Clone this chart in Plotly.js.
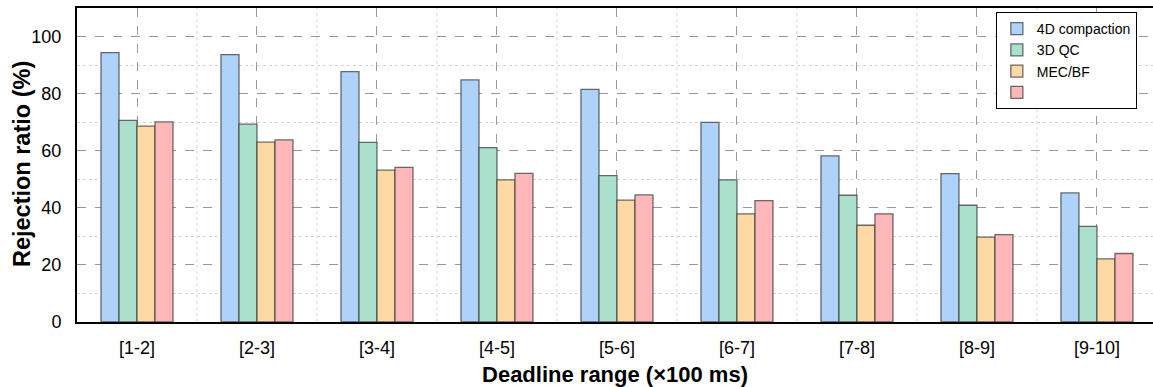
<!DOCTYPE html>
<html><head><meta charset="utf-8">
<script src="https://cdn.plot.ly/plotly-3.0.1.min.js"></script>
<style>html,body{margin:0;padding:0;background:#fff}#chart{width:1153px;height:387px}</style>
</head><body><div id="chart"></div>
<script>
const categories = ['[1-2]','[2-3]','[3-4]','[4-5]','[5-6]','[6-7]','[7-8]','[8-9]','[9-10]'];
const seriesNames = ['4D compaction','3D QC','MEC/BF',' '];
const compaction4D = [94.4, 93.7, 87.7, 84.8, 81.5, 69.9, 58.2, 52.0, 45.2];
const qc3D         = [70.6, 69.3, 62.9, 61.1, 51.3, 49.8, 44.4, 40.9, 33.5];
const mecBF        = [68.6, 63.0, 53.2, 49.8, 42.7, 37.9, 33.9, 29.7, 22.1];
const fourth       = [70.1, 63.8, 54.2, 52.1, 44.5, 42.5, 37.9, 30.6, 24.0];
const seriesValues = [compaction4D, qc3D, mecBF, fourth];
const colors = ['#aed2fa','#aae0cc','#fed9a4','#feb8ba'];
const xTitle = '<b>Deadline range (×100 ms)</b>';
const yTitle = '<b>Rejection ratio (%)</b>';

const traces = seriesValues.map((vals, i) => ({
  type: 'bar', x: categories, y: vals, name: seriesNames[i],
  marker: {color: colors[i], line: {color: 'rgba(60,60,60,0.75)', width: 1.3}}
}));

const shapes = categories.slice(0, -1).map((c, i) => ({
  type: 'line', xref: 'x', yref: 'paper', x0: i + 0.5, x1: i + 0.5, y0: 0, y1: 1,
  layer: 'below', line: {color: '#d6d6d6', width: 1, dash: 'dot'}
}));

const layout = {
  width: 1153, height: 387,
  margin: {l: 77, r: 0, t: 8, b: 65},
  paper_bgcolor: '#fff', plot_bgcolor: '#fff',
  font: {family: 'Liberation Sans, Arial, sans-serif', color: '#000'},
  barmode: 'group', bargap: 0.4, bargroupgap: 0,
  showlegend: true,
  legend: {x: 0.985, y: 0.987, xanchor: 'right', yanchor: 'top',
    bgcolor: '#fff', bordercolor: '#000', borderwidth: 1,
    font: {size: 14, family: 'Liberation Sans, Arial, sans-serif'},
    tracegroupgap: 0, itemwidth: 30},
  xaxis: {
    type: 'category', range: [-0.5, 8.467],
    showline: true, linecolor: '#000', linewidth: 2, mirror: true,
    ticks: '', tickfont: {size: 18}, ticklabelstandoff: 8,
    showgrid: true, gridcolor: '#999', griddash: 'dash', gridwidth: 1,
    title: {text: xTitle, font: {size: 22}, standoff: 10}
  },
  yaxis: {
    range: [0, 110], dtick: 20, tick0: 0,
    showline: true, linecolor: '#000', linewidth: 2,
    ticks: '', tickfont: {size: 18}, ticklabelstandoff: 10,
    showgrid: true, gridcolor: '#999', griddash: 'dash', gridwidth: 1,
    zeroline: false,
    minor: {dtick: 10, tick0: 0, showgrid: true, gridcolor: '#d6d6d6', griddash: 'dot', gridwidth: 1}
  },
  annotations: [{
    text: yTitle, textangle: -90, showarrow: false,
    xref: 'paper', yref: 'paper', x: -0.0511, y: 0.503,
    xanchor: 'center', yanchor: 'middle', font: {size: 23.5}
  }],
  shapes: shapes
};
Plotly.newPlot('chart', traces, layout, {displayModeBar: false, staticPlot: true});
</script></body></html>
